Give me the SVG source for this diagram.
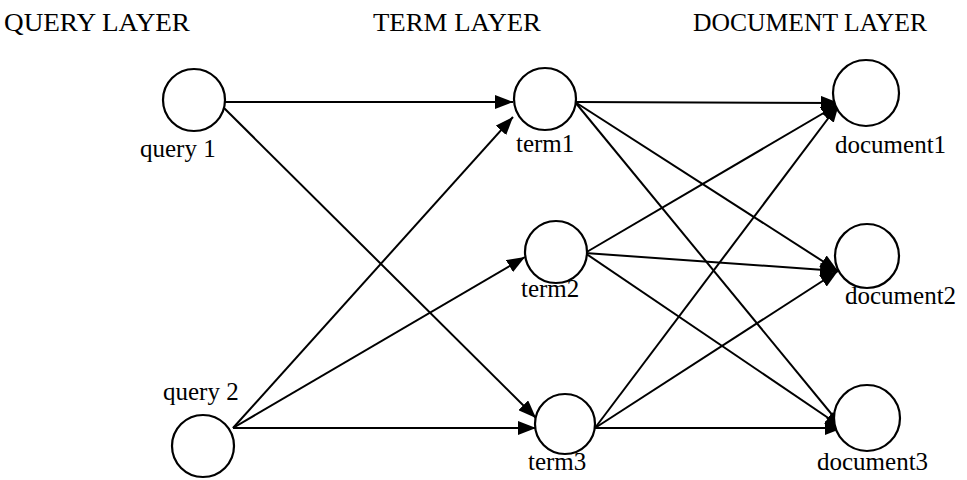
<svg xmlns="http://www.w3.org/2000/svg" width="967" height="480" viewBox="0 0 967 480">
<style>
  .node { fill: #fff; stroke: #000; stroke-width: 2.2; }
  .lbl { font-family: "Liberation Serif", "Times New Roman", serif; font-size: 25px; fill: #000; }
  .hdr { font-family: "Liberation Serif", "Times New Roman", serif; font-size: 25px; fill: #000; }
  .edge { stroke: #000; stroke-width: 2; fill: none; marker-end: url(#arr); }
</style>
<defs>
  <marker id="arr" markerUnits="userSpaceOnUse" markerWidth="18" markerHeight="14" refX="18" refY="7" orient="auto">
    <path d="M0,0 L18,7 L0,14 z" fill="#000"/>
  </marker>
</defs>
<rect width="967" height="480" fill="#fff"/>
<g id="headers">
  <text class="hdr" x="4" y="31" textLength="186" lengthAdjust="spacingAndGlyphs">QUERY LAYER</text>
  <text class="hdr" x="373" y="31" textLength="168" lengthAdjust="spacingAndGlyphs">TERM LAYER</text>
  <text class="hdr" x="693" y="31" textLength="234" lengthAdjust="spacingAndGlyphs">DOCUMENT LAYER</text>
</g>
<g id="connectors">
  <line class="edge" x1="225" y1="102" x2="513" y2="102"/>
  <line class="edge" x1="222" y1="106" x2="536" y2="418"/>
  <line class="edge" x1="233" y1="428" x2="513" y2="117"/>
  <line class="edge" x1="233" y1="428" x2="525" y2="257"/>
  <line class="edge" x1="233" y1="428" x2="536" y2="428"/>
  <line class="edge" x1="575" y1="102" x2="839" y2="103"/>
  <line class="edge" x1="575" y1="102" x2="838" y2="271"/>
  <line class="edge" x1="575" y1="102" x2="843" y2="428"/>
  <line class="edge" x1="585" y1="253" x2="839" y2="104"/>
  <line class="edge" x1="585" y1="253" x2="838" y2="271"/>
  <line class="edge" x1="585" y1="253" x2="843" y2="428"/>
  <line class="edge" x1="595" y1="428" x2="839" y2="104"/>
  <line class="edge" x1="595" y1="428" x2="838" y2="271"/>
  <line class="edge" x1="595" y1="428" x2="843" y2="428"/>
</g>
<g id="query1"><circle class="node" cx="194" cy="100" r="31"/><text class="lbl" x="140" y="157">query 1</text></g>
<g id="query2"><circle class="node" cx="203" cy="446" r="31"/><text class="lbl" x="163" y="400">query 2</text></g>
<g id="term1"><circle class="node" cx="545" cy="99" r="31"/><text class="lbl" x="516" y="152">term1</text></g>
<g id="term2"><circle class="node" cx="556" cy="252" r="31"/><text class="lbl" x="521" y="297">term2</text></g>
<g id="term3"><circle class="node" cx="565" cy="424" r="30"/><text class="lbl" x="528" y="470">term3</text></g>
<g id="document1"><circle class="node" cx="866" cy="93" r="33"/><text class="lbl" x="835" y="153">document1</text></g>
<g id="document2"><circle class="node" cx="867" cy="256" r="32"/><text class="lbl" x="845" y="304">document2</text></g>
<g id="document3"><circle class="node" cx="867" cy="418" r="33"/><text class="lbl" x="817" y="470">document3</text></g>
</svg>
